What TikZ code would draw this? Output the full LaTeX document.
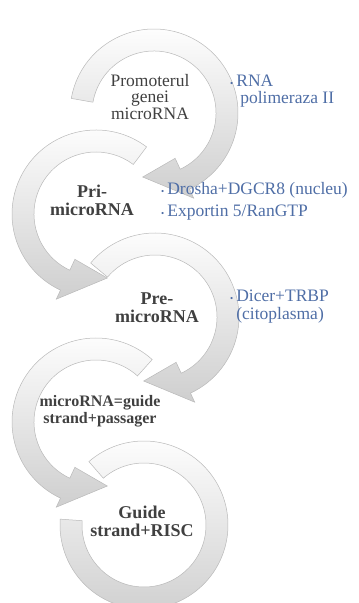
\documentclass[tikz,border=0pt]{standalone}
\usepackage{fontspec}
\setmainfont{Liberation Serif}
\usetikzlibrary{positioning}

\definecolor{stagegray}{RGB}{64,64,64}
\definecolor{noteblue}{RGB}{79,110,166}

\newcommand{\ringout}{84}
\newcommand{\ringin}{62}
\newcommand{\ringmid}{73}
\newcommand{\notebul}{{\fontsize{9}{9}\selectfont\textbullet}}

\newcommand{\cwarrow}[3]{%
  \path[ring, shift={(#1)}] (#2:\ringout) arc[start angle=#2, end angle=#3, radius=\ringout]
    -- ({#3}:{\ringout+10}) -- ({#3-35}:{\ringmid-8}) -- ({#3}:{\ringin-12}) -- (#3:\ringin)
    arc[start angle=#3, end angle=#2, radius=\ringin] -- cycle;}
\newcommand{\ccwarrow}[3]{%
  \path[ring, shift={(#1)}] (#2:\ringout) arc[start angle=#2, end angle=#3, radius=\ringout]
    -- ({#3}:{\ringout+10}) -- ({#3+35}:{\ringmid-8}) -- ({#3}:{\ringin-12}) -- (#3:\ringin)
    arc[start angle=#3, end angle=#2, radius=\ringin] -- cycle;}

\tikzset{
  ring/.style={top color=white, bottom color=gray!38, draw=gray!55, line width=0.5pt},
  stage/.style={align=center, text=stagegray, font=\fontsize{18}{18}\selectfont\bfseries},
  note/.style={anchor=west, inner sep=0pt, text=noteblue, font=\fontsize{17.5}{17}\selectfont},
}

\begin{document}
\begin{tikzpicture}[x=1pt,y=1pt]

  \useasboundingbox (0,0) rectangle (359,603);

  \coordinate (c1) at (154,490);
  \coordinate[below left=101 and 58 of c1] (c2);
  \coordinate[below right=103 and 59 of c2] (c3);
  \coordinate[below left=105 and 59 of c3] (c4);
  \coordinate[below right=103 and 48 of c4] (c5);

  \path[ring, shift={(c5)}] (131:\ringout) arc[start angle=131, end angle=-184, radius=\ringout]
    -- (-184:\ringin) arc[start angle=-184, end angle=131, radius=\ringin] -- cycle;
  \ccwarrow{c4}{48}{245}
  \cwarrow{c3}{140}{-65}
  \ccwarrow{c2}{53}{245}
  \cwarrow{c1}{170}{-65}

  \node[stage, font=\fontsize{17.5}{16.5}\selectfont] (promoter) at (150,506) {Promoterul\\genei\\microRNA};
  \node[stage] (pri) at (92,403) {Pri-\\microRNA};
  \node[stage] (pre) at (157,295) {Pre-\\microRNA};
  \node[stage, font=\fontsize{16}{17}\selectfont\bfseries] (duplex) at (100,192) {microRNA=guide\\strand+passager};
  \node[stage] (risc) at (142,82) {Guide\\strand+RISC};

  \node[note] (pol) at (230,511.5) {\begin{tabular}{@{}l@{\hspace{3pt}}l@{}}
    \notebul & RNA\\ & \hspace{4pt}polimeraza II\end{tabular}};
  \node[note] (drosha) at (161,401.5) {\begin{tabular}{@{}l@{\hspace{3pt}}l@{}}
    \notebul & Drosha+DGCR8 (nucleu)\\[5pt] \notebul & Exportin 5/RanGTP\end{tabular}};
  \node[note] (dicer) at (230,296) {\begin{tabular}{@{}l@{\hspace{3pt}}l@{}}
    \notebul & Dicer+TRBP\\ & (citoplasma)\end{tabular}};

\end{tikzpicture}
\end{document}
